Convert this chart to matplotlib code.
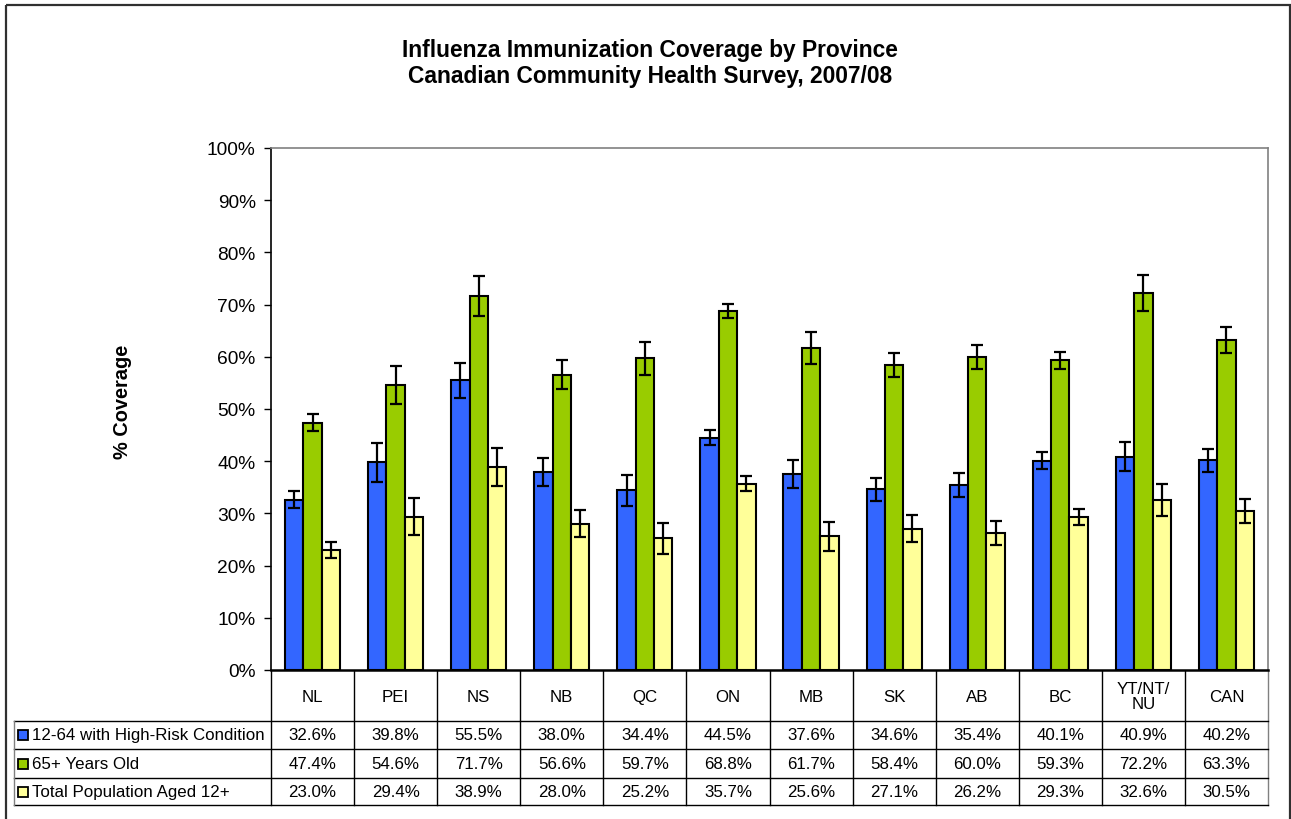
import numpy as np
import matplotlib
matplotlib.use("Agg")
import matplotlib.pyplot as plt
from matplotlib.patches import Rectangle

plt.rcParams['font.family'] = ['Liberation Sans', 'DejaVu Sans']

# data
provinces = ["NL", "PEI", "NS", "NB", "QC", "ON", "MB", "SK", "AB", "BC", "YT/NT/\nNU", "CAN"]
series_names = ["12-64 with High-Risk Condition", "65+ Years Old", "Total Population Aged 12+"]
high_risk = [32.6, 39.8, 55.5, 38.0, 34.4, 44.5, 37.6, 34.6, 35.4, 40.1, 40.9, 40.2]
seniors = [47.4, 54.6, 71.7, 56.6, 59.7, 68.8, 61.7, 58.4, 60.0, 59.3, 72.2, 63.3]
total_pop = [23.0, 29.4, 38.9, 28.0, 25.2, 35.7, 25.6, 27.1, 26.2, 29.3, 32.6, 30.5]
# approximate 95% confidence half-widths (estimated from the error bars)
high_risk_err = [1.6, 3.7, 3.3, 2.7, 2.9, 1.4, 2.7, 2.2, 2.3, 1.6, 2.8, 2.2]
seniors_err = [1.6, 3.6, 3.8, 2.8, 3.1, 1.4, 3.0, 2.3, 2.3, 1.7, 3.4, 2.5]
total_pop_err = [1.5, 3.5, 3.7, 2.6, 2.9, 1.4, 2.8, 2.5, 2.3, 1.6, 3.1, 2.3]
colors = ["#3366FF", "#99CC00", "#FFFF99"]

W, H = 1291, 820
fig = plt.figure(figsize=(W / 100, H / 100), dpi=100)

def fig_box(x0, y0, x1, y1):
    # pixel box (top-left origin) -> figure fraction rect
    return [x0 / W, 1 - y1 / H, (x1 - x0) / W, (y1 - y0) / H]

PX0, PX1, PY0, PY1 = 271, 1268, 149, 671
ax = fig.add_axes(fig_box(PX0, PY0, PX1, PY1))

values = [high_risk, seniors, total_pop]
errors = [high_risk_err, seniors_err, total_pop_err]
x = np.arange(len(provinces))
bw = 0.221
for k in range(3):
    ax.bar(x + (k - 1) * bw, values[k], bw, color=colors[k], edgecolor="black",
           linewidth=1.5, yerr=errors[k], capsize=4.3,
           error_kw=dict(elinewidth=1.6, capthick=1.6, ecolor="black"), zorder=3)

ax.set_xlim(-0.5, len(provinces) - 0.5)
ax.set_ylim(0, 100)
ax.set_yticks(np.arange(0, 101, 10))
ax.set_yticklabels([f"{v}%" for v in range(0, 101, 10)], fontsize=13.8)
ax.tick_params(axis="y", direction="out", length=5, width=1, pad=6)
ax.set_xticks([])
for s in ["top", "right"]:
    ax.spines[s].set_color("#808080")
    ax.spines[s].set_linewidth(1.2)
ax.spines["left"].set_linewidth(1.2)
ax.spines["bottom"].set_linewidth(1.8)

# overlay for title, label, table and frame in pixel coordinates
ov = fig.add_axes([0, 0, 1, 1], zorder=-1)
ov.set_xlim(0, W)
ov.set_ylim(H, 0)
ov.axis("off")

ov.add_patch(Rectangle((6, 6), 1284, 830, fill=False, edgecolor="#303030", linewidth=1.6,
                       clip_on=True))
ov.text(650, 50, "Influenza Immunization Coverage by Province", ha="center", va="center",
        fontsize=16.4, fontweight="bold")
ov.text(650, 77, "Canadian Community Health Survey, 2007/08", ha="center", va="center",
        fontsize=16.4, fontweight="bold")
ov.text(122, 402, "% Coverage", rotation=90, ha="center", va="center",
        fontsize=14.4, fontweight="bold")

# data table under the plot
col_w = (PX1 - PX0) / len(provinces)
HEAD0, HEAD1 = 671, 722
row_y = [722, 750, 779, 806]
LX = 14
lw = 1.0
for i in range(len(provinces) + 1):
    cx = PX0 + i * col_w
    ov.plot([cx, cx], [HEAD0, row_y[-1]], color="black" if i < len(provinces) else "#808080", lw=lw)
for ry in row_y:
    ov.plot([LX, PX1], [ry, ry], color="black", lw=lw)
ov.plot([LX, LX], [row_y[0], row_y[-1]], color="#808080", lw=lw)

for i, name in enumerate(provinces):
    cx = PX0 + (i + 0.5) * col_w
    ov.text(cx, (HEAD0 + HEAD1) / 2 + 1, name, ha="center", va="center", fontsize=12.2,
            linespacing=1.0)
    for r in range(3):
        cy = (row_y[r] + row_y[r + 1]) / 2
        ov.text(cx, cy, f"{values[r][i]:.1f}%", ha="center", va="center", fontsize=12.2)

for r in range(3):
    cy = (row_y[r] + row_y[r + 1]) / 2
    ov.add_patch(Rectangle((18, cy - 5), 10, 10, facecolor=colors[r], edgecolor="black", linewidth=1.3))
    ov.text(32, cy, series_names[r], ha="left", va="center", fontsize=12.2)

fig.savefig("out.png", dpi=100)
